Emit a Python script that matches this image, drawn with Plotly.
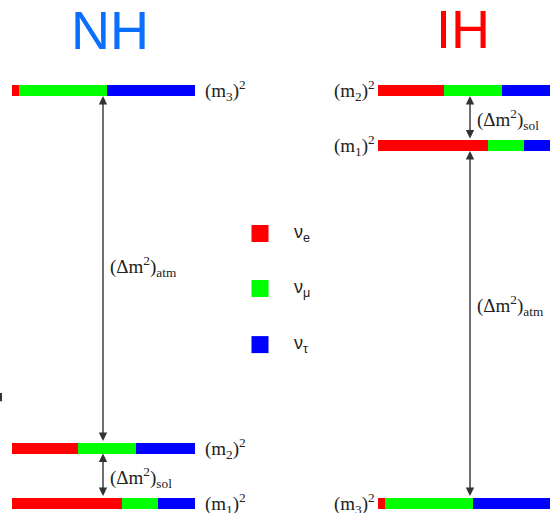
import plotly.graph_objects as go

# Flavour content of each mass eigenstate (nu_e, nu_mu, nu_tau)
flavors = ["ν<sub>e</sub>", "ν<sub>μ</sub>", "ν<sub>τ</sub>"]
flavor_colors = ["#ff0000", "#00ff00", "#0000ff"]
mix = {
    "m1": [0.60, 0.20, 0.20],
    "m2": [0.36, 0.32, 0.32],
    "m3": [0.04, 0.48, 0.48],
}

# Level heights (arbitrary mass-squared units) for each ordering
states = ["m1", "m2", "m3"]
nh_levels = [0.0, 1.0, 7.5]
ih_levels = [6.5, 7.5, 0.0]

BAR_LEN = 183
NH_X0, IH_X0 = 12, 378
BAR_W = 0.2

fig = go.Figure()


def add_levels(x0, levels):
    for k, color in enumerate(flavor_colors):
        ys, xs, bases = [], [], []
        for s, lvl in zip(states, levels):
            frac = mix[s]
            start = x0 + BAR_LEN * sum(frac[:k])
            ys.append(lvl)
            xs.append(BAR_LEN * frac[k])
            bases.append(start)
        fig.add_trace(go.Bar(
            orientation="h", y=ys, x=xs, base=bases, width=BAR_W,
            marker=dict(color=color, line=dict(width=0)),
            showlegend=False, hoverinfo="skip",
        ))


add_levels(NH_X0, nh_levels)
add_levels(IH_X0, ih_levels)

serif = dict(family="Liberation Serif, Times New Roman, serif", size=19, color="#222222")

# State labels
idx = {s: i for i, s in enumerate(states)}
for s in states:
    n = s[1]
    fig.add_annotation(x=NH_X0 + BAR_LEN + 8, y=nh_levels[idx[s]],
                       text=f"(m<sub>{n}</sub>)<sup>2</sup>", showarrow=False,
                       xanchor="left", yanchor="middle", font=serif)
    fig.add_annotation(x=IH_X0 - 1, y=ih_levels[idx[s]],
                       text=f"(m<sub>{n}</sub>)<sup>2</sup>", showarrow=False,
                       xanchor="right", yanchor="middle", font=serif)


def double_arrow(x, y_lo, y_hi):
    half = BAR_W / 2
    fig.add_annotation(x=x, y=y_hi - half, ax=x, ay=y_lo + half,
                       xref="x", yref="y", axref="x", ayref="y",
                       showarrow=True, arrowhead=2, arrowside="end+start",
                       arrowsize=1.2, arrowwidth=1.4, arrowcolor="#333333", text="")


NH_AX, IH_AX = 103, 470
double_arrow(NH_AX, nh_levels[1], nh_levels[2])
double_arrow(NH_AX, nh_levels[0], nh_levels[1])
double_arrow(IH_AX, ih_levels[2], ih_levels[0])
double_arrow(IH_AX, ih_levels[0], ih_levels[1])

# Splitting labels
fig.add_annotation(x=NH_AX + 5, y=4.3, text="(Δm<sup>2</sup>)<sub>atm</sub>",
                   showarrow=False, xanchor="left", yanchor="middle", font=serif)
fig.add_annotation(x=NH_AX + 5, y=0.47, text="(Δm<sup>2</sup>)<sub>sol</sub>",
                   showarrow=False, xanchor="left", yanchor="middle", font=serif)
fig.add_annotation(x=IH_AX + 5, y=3.6, text="(Δm<sup>2</sup>)<sub>atm</sub>",
                   showarrow=False, xanchor="left", yanchor="middle", font=serif)
fig.add_annotation(x=IH_AX + 5, y=6.98, text="(Δm<sup>2</sup>)<sub>sol</sub>",
                   showarrow=False, xanchor="left", yanchor="middle", font=serif)

# Flavour key
key_y = [4.9, 3.9, 2.88]
fig.add_trace(go.Scatter(
    x=[260] * 3, y=key_y, mode="markers",
    marker=dict(symbol="square", size=17, color=flavor_colors, line=dict(width=0)),
    showlegend=False, hoverinfo="skip",
))
for f, yy in zip(flavors, key_y):
    fig.add_annotation(x=292, y=yy, text=f, showarrow=False, xanchor="left",
                       yanchor="middle",
                       font=dict(family="Liberation Sans", size=18, color="#222222"))

# Ordering titles
fig.add_annotation(x=110, y=8.6, text="NH", showarrow=False, xanchor="center",
                   yanchor="middle",
                   font=dict(family="Liberation Sans", size=54, color="#0a6eff"))
fig.add_annotation(x=463, y=8.62, text="IH", showarrow=False, xanchor="center",
                   yanchor="middle",
                   font=dict(family="Liberation Sans", size=54, color="#ff0000"))

# Small edge tick
fig.add_shape(type="line", x0=1, x1=1, y0=2.0, y1=1.85,
              line=dict(color="#333333", width=2))

fig.update_layout(
    width=550, height=513,
    margin=dict(l=0, r=0, t=0, b=0),
    paper_bgcolor="white", plot_bgcolor="white",
    barmode="overlay", bargap=0,
    xaxis=dict(range=[0, 550], visible=False, fixedrange=True),
    yaxis=dict(range=[-10 / 55, 503 / 55], visible=False, fixedrange=True),
)

fig.write_html("out.html")
